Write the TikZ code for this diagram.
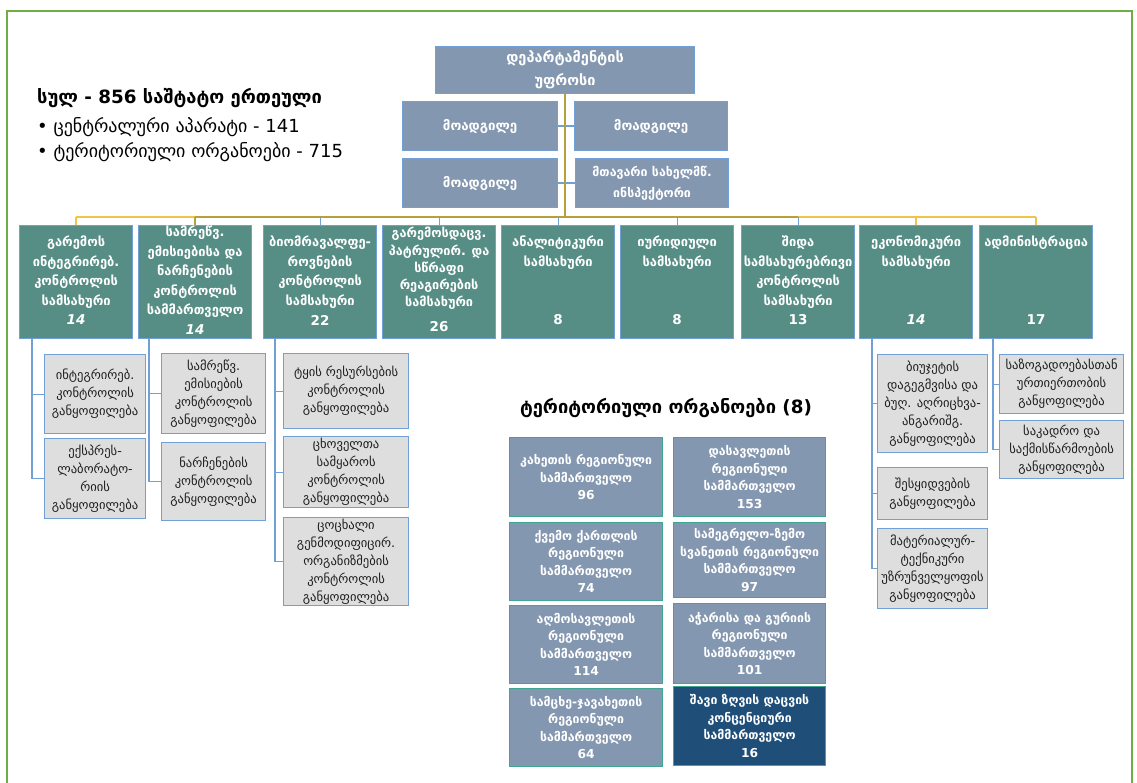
\documentclass[tikz,border=0pt]{standalone}
\usepackage{fontspec}
\setmainfont{DejaVu Sans}
\usetikzlibrary{calc}
\definecolor{frameg}{RGB}{112,173,71}
\definecolor{slatec}{RGB}{132,151,176}
\definecolor{deptc}{RGB}{86,142,134}
\definecolor{bblue}{RGB}{112,160,214}
\definecolor{grayf}{RGB}{222,222,222}
\definecolor{tgreen}{RGB}{62,166,146}
\definecolor{navyc}{RGB}{31,78,121}
\definecolor{goldc}{RGB}{180,160,60}
\definecolor{yelc}{RGB}{242,196,70}
\definecolor{textk}{RGB}{30,30,30}
\tikzset{
  x=1pt, y=-1pt,
  box/.style={anchor=north west, inner sep=0pt, line width=1.2pt, align=center},
  headbox/.style={box, draw=bblue, fill=slatec, text=white, font=\bfseries\fontsize{13.3}{22}\selectfont},
  deptbox/.style={box, draw=bblue, fill=deptc, minimum width=113pt, minimum height=113pt},
  dtext/.style={anchor=north, inner sep=0pt, align=center, text=white, font=\bfseries\fontsize{12.9}{19.5}\selectfont},
  dnum/.style={inner sep=0pt, text=white, font=\bfseries\fontsize{13.5}{15}\selectfont},
  dinum/.style={dnum, font=\bfseries\itshape\fontsize{13.5}{15}\selectfont},
  subbox/.style={box, draw=bblue, fill=grayf, text=textk, font=\fontsize{12.6}{18}\selectfont},
  terbox/.style={box, draw=tgreen, fill=slatec, text=white, font=\bfseries\fontsize{12.3}{17.5}\selectfont},
  trunkline/.style={draw=goldc, line width=2pt},
  busline/.style={draw=yelc, line width=1.6pt},
  busmid/.style={draw=goldc, line width=1.6pt},
  bluedrop/.style={draw=bblue, line width=1.2pt},
  yeldrop/.style={draw=yelc, line width=1.6pt},
  subline/.style={draw=bblue, line width=1.2pt},
}
\begin{document}
\begin{tikzpicture}
\useasboundingbox (0,0) rectangle (1137,783);
% frame
\draw[frameg, line width=2pt] (7,790) -- (7,11) -- (1132,11) -- (1132,790);

% header text
\node[anchor=west, inner sep=0pt, font=\bfseries\fontsize{18.3}{22}\selectfont] (sum) at (37,98) {სულ - 856 საშტატო ერთეული};
\node[anchor=west, inner sep=0pt, font=\fontsize{18}{22}\selectfont] (bul1) at (37,127) {• ცენტრალური აპარატი - 141};
\node[anchor=west, inner sep=0pt, font=\fontsize{18}{22}\selectfont] (bul2) at (37,152) {• ტერიტორიული ორგანოები - 715};

% top boxes
\node[headbox, minimum width=259pt, minimum height=47pt, font=\bfseries\fontsize{14.5}{23}\selectfont] (top) at (435,46) {დეპარტამენტის\\უფროსი};
\node[headbox, minimum width=155pt, minimum height=49pt] (dl1) at (402,101) {მოადგილე};
\node[headbox, minimum width=153pt, minimum height=49pt] (dr1) at (574,101) {მოადგილე};
\node[headbox, minimum width=155pt, minimum height=49pt] (dl2) at (402,158) {მოადგილე};
\node[headbox, minimum width=153pt, minimum height=49pt, font=\bfseries\fontsize{12.4}{21}\selectfont] (dr2) at (575,158) {მთავარი სახელმწ.\\ინსპექტორი};
\draw[bluedrop] (dl1.east) -- (dr1.west);
\draw[bluedrop] (dl2.east) -- (dr2.west);
\coordinate (bus) at (564,217);

% department boxes
\node[deptbox] (d1) at (19,225) {};
\node[deptbox] (d2) at (138,225) {};
\node[deptbox] (d3) at (263,225) {};
\node[deptbox] (d4) at (382,225) {};
\node[deptbox] (d5) at (501,225) {};
\node[deptbox] (d6) at (620,225) {};
\node[deptbox] (d7) at (741,225) {};
\node[deptbox] (d8) at (859,225) {};
\node[deptbox] (d9) at (979,225) {};

% bus and drops
\draw[busline] (d1.north |- bus) -- (d9.north |- bus);
\draw[busmid] (d2.north |- bus) -- (d7.north |- bus);
\draw[trunkline] (top.south) -- (top.south |- bus);
\draw[yeldrop] (d1.north |- bus) -- (d1.north);
\draw[busmid] (d2.north |- bus) -- (d2.north);
\foreach \i in {3,...,7} {\draw[bluedrop] (d\i.north |- bus) -- (d\i.north);}
\draw[yeldrop] (d8.north |- bus) -- (d8.north);
\draw[yeldrop] (d9.north |- bus) -- (d9.north);

% department texts
\node[dtext] (t1) at ($(d1.north)+(0,11)$) {გარემოს\\ინტეგრირებ.\\კონტროლის\\სამსახური};
\node[dinum] (n1) at ($(d1.north)+(0,95)$) {14};
\node[dtext] (t2) at ($(d2.north)+(0,1)$) {სამრეწვ.\\ემისიებისა და\\ნარჩენების\\კონტროლის\\სამმართველო};
\node[dinum] (n2) at ($(d2.north)+(0,105)$) {14};
\node[dtext] (t3) at ($(d3.north)+(0,11)$) {ბიომრავალფე-\\როვნების\\კონტროლის\\სამსახური};
\node[dnum] (n3) at ($(d3.north)+(0,95)$) {22};
\node[dtext, font=\bfseries\fontsize{12.7}{17.3}\selectfont] (t4) at ($(d4.north)+(0,2)$) {გარემოსდაცვ.\\პატრულირ. და\\სწრაფი\\რეაგირების\\სამსახური};
\node[dnum] (n4) at ($(d4.north)+(0,102)$) {26};
\node[dtext] (t5) at ($(d5.north)+(0,11)$) {ანალიტიკური\\სამსახური};
\node[dnum] (n5) at ($(d5.north)+(0,95)$) {8};
\node[dtext] (t6) at ($(d6.north)+(0,11)$) {იურიდიული\\სამსახური};
\node[dnum] (n6) at ($(d6.north)+(0,95)$) {8};
\node[dtext] (t7) at ($(d7.north)+(0,11)$) {შიდა\\სამსახურებრივი\\კონტროლის\\სამსახური};
\node[dnum] (n7) at ($(d7.north)+(0,95)$) {13};
\node[dtext] (t8) at ($(d8.north)+(0,11)$) {ეკონომიკური\\სამსახური};
\node[dinum] (n8) at ($(d8.north)+(0,95)$) {14};
\node[dtext] (t9) at ($(d9.north)+(0,11)$) {ადმინისტრაცია};
\node[dnum] (n9) at ($(d9.north)+(0,95)$) {17};

% sub boxes
\node[subbox, minimum width=101pt, minimum height=79pt] (sa) at (44,354) {ინტეგრირებ.\\კონტროლის\\განყოფილება};
\node[subbox, minimum width=101pt, minimum height=80pt] (sb) at (44,438) {ექსპრეს-\\ლაბორატო-\\რიის\\განყოფილება};
\node[subbox, minimum width=104pt, minimum height=80pt] (sc) at (161,353) {სამრეწვ.\\ემისიების\\კონტროლის\\განყოფილება};
\node[subbox, minimum width=104pt, minimum height=78pt] (sd) at (161,442) {ნარჩენების\\კონტროლის\\განყოფილება};
\node[subbox, minimum width=125pt, minimum height=75pt] (se) at (283,353) {ტყის რესურსების\\კონტროლის\\განყოფილება};
\node[subbox, minimum width=125pt, minimum height=71pt] (sf) at (283,436) {ცხოველთა\\სამყაროს\\კონტროლის\\განყოფილება};
\node[subbox, minimum width=125pt, minimum height=88pt] (sg) at (283,517) {ცოცხალი\\გენმოდიფიცირ.\\ორგანიზმების\\კონტროლის\\განყოფილება};
\node[subbox, minimum width=110pt, minimum height=98pt] (sh) at (877,354) {ბიუჯეტის\\დაგეგმვისა და\\ბუღ. აღრიცხვა-\\ანგარიშგ.\\განყოფილება};
\node[subbox, minimum width=110pt, minimum height=52pt] (si) at (877,467) {შესყიდვების\\განყოფილება};
\node[subbox, minimum width=110pt, minimum height=80pt] (sj) at (877,528) {მატერიალურ-\\ტექნიკური\\უზრუნველყოფის\\განყოფილება};
\node[subbox, minimum width=124pt, minimum height=59pt] (sk) at (999,354) {საზოგადოებასთან\\ურთიერთობის\\განყოფილება};
\node[subbox, minimum width=124pt, minimum height=58pt] (sl) at (999,420) {საკადრო და\\საქმისწარმოების\\განყოფილება};

% sub connectors
\draw[subline] ($(d1.south west)+(13,0)$) |- (sa.west);
\draw[subline] ($(d1.south west)+(13,0)$) |- (sb.west);
\draw[subline] ($(d2.south west)+(11,0)$) |- (sc.west);
\draw[subline] ($(d2.south west)+(11,0)$) |- (sd.west);
\draw[subline] ($(d3.south west)+(12,0)$) |- (se.west);
\draw[subline] ($(d3.south west)+(12,0)$) |- (sf.west);
\draw[subline] ($(d3.south west)+(12,0)$) |- (sg.west);
\draw[subline] ($(d8.south west)+(13,0)$) |- (sh.west);
\draw[subline] ($(d8.south west)+(13,0)$) |- (si.west);
\draw[subline] ($(d8.south west)+(13,0)$) |- (sj.west);
\draw[subline] ($(d9.south west)+(14,0)$) |- (sk.west);
\draw[subline] ($(d9.south west)+(14,0)$) |- (sl.west);

% territorial
\node[inner sep=0pt, font=\bfseries\fontsize{18.3}{22}\selectfont] (tertitle) at (666,408) {ტერიტორიული ორგანოები (8)};
\node[terbox, minimum width=153pt, minimum height=79pt] (ta) at (509,437) {კახეთის რეგიონული\\სამმართველო\\96};
\node[terbox, minimum width=152pt, minimum height=79pt] (tb) at (673,437) {დასავლეთის\\რეგიონული\\სამმართველო\\153};
\node[terbox, minimum width=153pt, minimum height=78pt] (tc) at (509,522) {ქვემო ქართლის\\რეგიონული\\სამმართველო\\74};
\node[terbox, minimum width=152pt, minimum height=75pt] (td) at (673,522) {სამეგრელო-ზემო\\სვანეთის რეგიონული\\სამმართველო\\97};
\node[terbox, minimum width=153pt, minimum height=78pt] (te) at (509,605) {აღმოსავლეთის\\რეგიონული\\სამმართველო\\114};
\node[terbox, minimum width=152pt, minimum height=80pt] (tf) at (673,603) {აჭარისა და გურიის\\რეგიონული\\სამმართველო\\101};
\node[terbox, minimum width=153pt, minimum height=78pt] (tg) at (509,688) {სამცხე-ჯავახეთის\\რეგიონული\\სამმართველო\\64};
\node[terbox, fill=navyc, minimum width=152pt, minimum height=79pt] (th) at (673,686) {შავი ზღვის დაცვის\\კონცენციური\\სამმართველო\\16};
\end{tikzpicture}
\end{document}
